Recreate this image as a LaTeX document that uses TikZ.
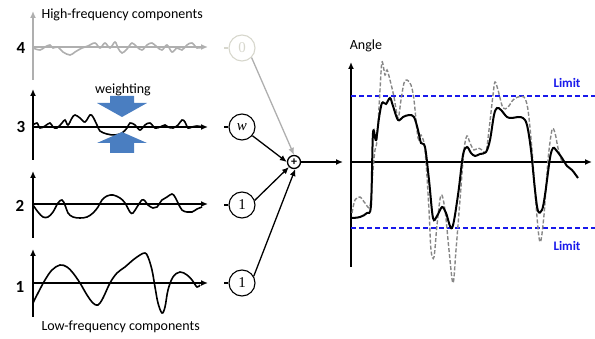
\documentclass[tikz,border=0pt]{standalone}
\usepackage{fontspec}
\setmainfont{Carlito}
\newfontfamily\serifc{Liberation Serif}
\usetikzlibrary{arrows.meta}
\definecolor{limblue}{RGB}{25,25,235}
\definecolor{wblue}{RGB}{74,126,193}
\definecolor{hfgray}{RGB}{175,175,175}
\definecolor{faint}{RGB}{215,215,205}
\definecolor{dgray}{RGB}{135,135,135}
\tikzset{
  ax/.style={line width=1.5pt,-{Latex[length=7pt,width=6pt]}},
  wave/.style={line width=1.6pt},
  gain/.style={circle,draw,line width=1.1pt,minimum size=26pt,inner sep=0pt,font=\serifc\fontsize{15}{15}\selectfont},
  sumnode/.style={circle,draw,line width=1.3pt,minimum size=13pt,inner sep=0pt,font=\bfseries\fontsize{12}{12}\selectfont},
  conn/.style={line width=1.3pt,-{Latex[length=7pt,width=6pt]}},
  lbl/.style={font=\fontsize{14}{16}\selectfont},
  num/.style={font=\bfseries\fontsize{17}{17}\selectfont},
  lim/.style={font=\bfseries\fontsize{13}{13}\selectfont,text=limblue},
  limline/.style={draw=limblue,line width=1.5pt,dash pattern=on 5pt off 3pt},
}
\begin{document}
\begin{tikzpicture}[x=1pt,y=-1pt]
\useasboundingbox (0,0) rectangle (595,339);

% ---- component 4 (high frequency, greyed out)
\draw[ax,hfgray] (33,80) -- (33,11);
\draw[ax,hfgray] (33,47) -- (208,47);
\draw[wave,hfgray] plot[smooth,tension=0.6] coordinates {(33,48) (40,50) (45,47) (50,45) (53,48) (58,47) (63,52) (70,55) (75,52) (82,48) (88,46) (95,43) (100,48) (105,43) (110,48) (115,42) (118,48) (122,53) (127,49) (132,43) (137,47) (142,50) (147,45) (152,43) (157,47) (162,50) (167,45) (172,52) (177,48) (182,50) (187,45) (192,43) (197,48) (202,47)};
\node[num] (n4) at (21,48) {4};
\node[lbl,anchor=west] (hf) at (38,15) {High-frequency components};

% ---- component 3 (weighted)
\draw[ax] (33,160) -- (33,89);
\draw[ax] (33,127) -- (208,127);
\draw[wave] plot[smooth,tension=0.6] coordinates {(33,125) (37,123) (40,128) (45,126) (50,123) (53,127) (57,128) (62,123) (65,120) (68,125) (72,118) (75,115) (80,118) (85,122) (90,115) (93,117) (97,125) (100,131) (107,134) (115,135) (122,133) (127,128) (130,123) (135,125) (140,130) (145,125) (150,123) (155,128) (160,127) (165,125) (168,127) (173,128) (178,125) (182,120) (185,122) (188,128) (192,127) (197,126) (203,127)};
\node[num] (n3) at (21,127) {3};
\node[lbl] (wt) at (123,90) {weighting};
\fill[wblue] (110,96) -- (134,96) -- (134,103) -- (147,103) -- (122,117) -- (97,103) -- (110,103) -- cycle;
\fill[wblue] (122,132) -- (147,143) -- (134,143) -- (134,153) -- (110,153) -- (110,143) -- (97,143) -- cycle;

% ---- component 2
\draw[ax] (33,238) -- (33,171);
\draw[ax] (33,204) -- (208,204);
\draw[wave] plot[smooth,tension=0.6] coordinates {(33,205) (38,212) (43,217) (48,217) (53,212) (58,203) (62,200) (65,205) (68,213) (73,217) (80,218) (87,217) (93,213) (98,207) (102,200) (107,196) (113,195) (120,198) (125,203) (130,212) (133,213) (137,207) (142,200) (145,201) (148,205) (153,208) (157,207) (162,200) (167,197) (172,194) (175,197) (178,203) (182,210) (187,212) (192,212) (197,209) (202,207)};
\node[num] (n2) at (20,206) {2};

% ---- component 1 (low frequency)
\draw[ax] (33,317) -- (33,249);
\draw[ax] (33,283) -- (208,283);
\draw[wave] plot[smooth,tension=0.6] coordinates {(33,303) (38,293) (45,280) (52,270) (60,265) (67,267) (73,273) (80,283) (87,295) (93,303) (98,305) (103,298) (110,283) (117,273) (125,267) (133,260) (140,255) (145,253) (148,257) (152,270) (155,287) (158,303) (162,313) (165,307) (168,290) (173,277) (180,272) (187,275) (192,280) (197,287) (200,285)};
\node[num] (n1) at (20,287) {1};
\node[lbl,anchor=west] (lf) at (38,327) {Low-frequency components};

% ---- gains and summation
\node[gain,draw=faint,text=faint] (g4) at (242,48) {0};
\node[gain] (g3) at (242,127) {\itshape w};
\node[gain] (g2) at (242,205) {1};
\node[gain] (g1) at (242,283) {1};
\node[sumnode] (sum) at (294,162) {+};
\coordinate (s4) at (224,48);
\coordinate (s3) at (224,127);
\coordinate (s2) at (224,205);
\coordinate (s1) at (224,283);
\draw[line width=1.1pt,faint] (s4) -- (g4);
\draw[line width=1.1pt] (s3) -- (g3);
\draw[line width=1.1pt] (s2) -- (g2);
\draw[line width=1.1pt] (s1) -- (g1);
\draw[conn,hfgray] (g4.-45) -- (sum.north);
\draw[conn] (g3.-40) -- (sum.west);
\draw[conn] (g2.20) -- (sum.-135);
\draw[conn] (g1.30) -- (sum.-80);
\coordinate (in) at (343,162);
\draw[conn] (sum.east) -- (in);

% ---- resulting angle
\draw[ax] (351,267) -- (351,62);
\draw[ax] (351,162) -- (592,162);
\node[lbl] (ang) at (366,46) {Angle};
\draw[limline] (351,96) -- (595,96);
\draw[limline] (351,228) -- (595,228);
\node[lim] (lu) at (567,83) {Limit};
\node[lim] (ll) at (567,246) {Limit};
\draw[dgray,line width=1.4pt,dash pattern=on 4pt off 2pt] plot[smooth,tension=0.55] coordinates {(352,213) (355,200) (360,197) (365,203) (370,206) (373,170) (375,150) (377,140) (380,90) (382,62) (385,75) (387,70) (390,80) (394,97) (398,118) (401,100) (404,83) (407,80) (411,85) (414,100) (418,138) (421,135) (425,150) (429,210) (431,250) (434,257) (437,225) (441,195) (445,210) (449,250) (453,283) (456,250) (460,200) (464,150) (467,136) (470,143) (474,150) (478,148) (482,150) (486,152) (489,130) (493,95) (495,82) (498,90) (503,108) (508,107) (513,100) (518,97) (524,97) (528,110) (532,150) (536,205) (540,242) (544,215) (548,160) (552,130) (555,133) (558,148) (562,162)};
\draw[line width=2pt] plot[smooth,tension=0.55] coordinates {(352,218) (360,217) (367,213) (371,205) (373,133) (376,140) (379,118) (382,103) (386,104) (390,98) (393,106) (398,120) (403,117) (409,115) (414,117) (418,130) (421,143) (425,147) (429,180) (433,218) (437,216) (442,207) (446,213) (452,228) (458,195) (463,155) (467,147) (471,153) (475,156) (480,154) (486,152) (490,140) (494,115) (497,108) (501,110) (507,117) (512,118) (518,117) (523,118) (527,125) (531,150) (535,190) (538,211) (542,210) (545,195) (550,158) (553,148) (556,150) (562,158) (567,166) (572,170) (578,178)};
\end{tikzpicture}
\end{document}
